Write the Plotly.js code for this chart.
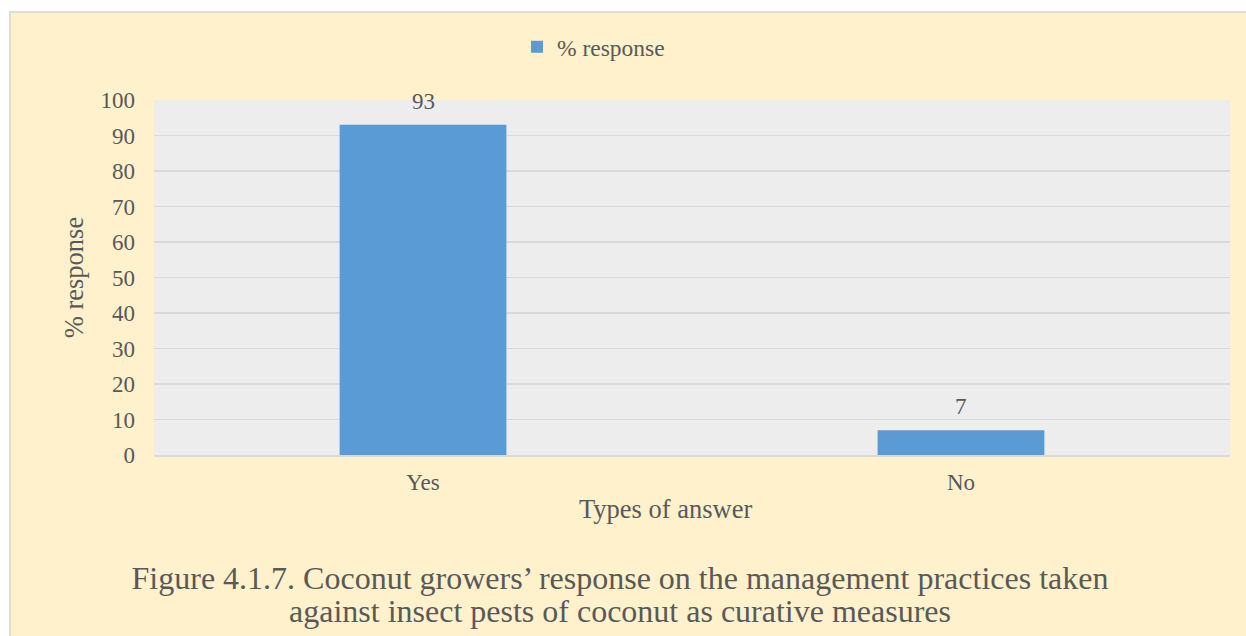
<!DOCTYPE html>
<html>
<head>
<meta charset="utf-8">
<script src="https://cdn.plot.ly/plotly-3.0.1.min.js"></script>
<style>
  html, body { margin: 0; padding: 0; background: #ffffff; }
  #frame {
    position: absolute; left: 9px; top: 11px; width: 1237px; height: 625px;
    box-sizing: border-box; background: #FFF1CC;
    border-left: 2px solid #DCDCDC; border-top: 2px solid #DCDCDC;
  }
  #chart { position: absolute; left: 0; top: 0; width: 1246px; height: 636px; }
</style>
</head>
<body>
<div id="frame"></div>
<div id="chart"></div>
<script>
// Survey answers and their share of respondents
const categories = ["Yes", "No"];
const responsePct = [93, 7];
const seriesName = "% response";
const yTicks = [0, 10, 20, 30, 40, 50, 60, 70, 80, 90, 100];
const captionLines = [
  "Figure 4.1.7. Coconut growers’ response on the management practices taken",
  "against insect pests of coconut as curative measures"
];

const textColor = "#595959";
const fontFamily = "'Liberation Serif', 'Times New Roman', serif";

const trace = {
  type: "bar",
  name: seriesName,
  x: categories,
  y: responsePct,
  marker: { color: "#5B9BD5" },
  hoverinfo: "x+y",
  showlegend: true
};

// Value labels above each bar
const valueLabels = categories.map((c, i) => ({
  x: c, y: responsePct[i], xref: "x", yref: "y",
  text: String(responsePct[i]), showarrow: false,
  yanchor: "bottom", yshift: 9,
  font: { family: fontFamily, size: 23, color: textColor }
}));

// Second caption line, set a little closer than the default line height
const captionSecond = {
  text: captionLines[1], showarrow: false,
  xref: "paper", yref: "paper",
  x: (620 - 154) / 1076, xanchor: "center",
  y: (455 - 611) / 355, yanchor: "middle",
  font: { family: fontFamily, size: 32, color: textColor }
};

const xTitle = {
  text: "Types of answer", showarrow: false,
  xref: "paper", yref: "paper",
  x: (665 - 154) / 1076, xanchor: "center",
  y: (455 - 509) / 355, yanchor: "middle",
  font: { family: fontFamily, size: 26.5, color: textColor }
};

const layout = {
  width: 1246, height: 636,
  margin: { l: 154, r: 16, t: 100, b: 181 },
  paper_bgcolor: "rgba(0,0,0,0)",
  plot_bgcolor: "#EDEDED",
  font: { family: fontFamily, color: textColor, size: 23 },
  bargap: 0.69,
  title: {
    text: captionLines[0],
    font: { family: fontFamily, size: 32, color: textColor },
    xref: "container", yref: "container",
    x: 620 / 1246, xanchor: "center",
    y: 1 - 578 / 636, yanchor: "middle"
  },
  xaxis: {
    type: "category",
    showgrid: false,
    showline: true, linecolor: "#D9D9D9", linewidth: 2,
    ticks: "", ticklabelstandoff: 5,
    tickfont: { family: fontFamily, size: 23, color: textColor },
    fixedrange: true
  },
  yaxis: {
    range: [0, 100],
    tickvals: yTicks,
    ticktext: yTicks.map(String),
    showgrid: true, gridcolor: "#D9D9D9", gridwidth: 1.5,
    zeroline: false, showline: false,
    ticks: "", ticklabelstandoff: 18,
    tickfont: { family: fontFamily, size: 23, color: textColor },
    title: {
      text: seriesName, standoff: 9,
      font: { family: fontFamily, size: 26.5, color: textColor }
    },
    fixedrange: true
  },
  legend: {
    orientation: "h",
    x: (517 - 154) / 1076, xanchor: "left",
    y: (455 - 47) / 355, yanchor: "middle",
    bgcolor: "rgba(0,0,0,0)",
    font: { family: fontFamily, size: 23.5, color: textColor }
  },
  annotations: valueLabels.concat([xTitle, captionSecond])
};

Plotly.newPlot("chart", [trace], layout, { displayModeBar: false, staticPlot: true });
</script>
</body>
</html>
